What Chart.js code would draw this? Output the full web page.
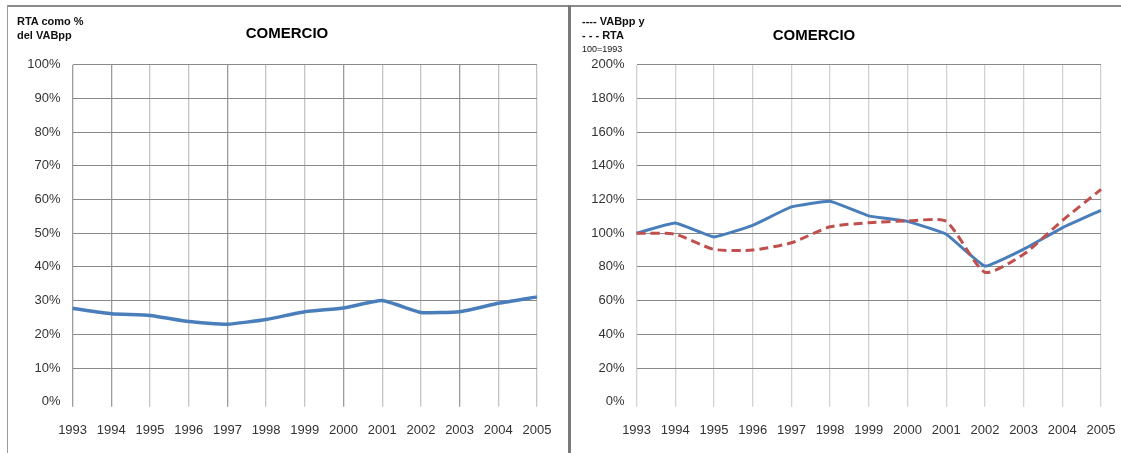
<!DOCTYPE html>
<html>
<head>
<meta charset="utf-8">
<script src="https://cdn.jsdelivr.net/npm/chart.js@4.4.1/dist/chart.umd.min.js"></script>
<style>
  html, body { margin: 0; padding: 0; background: #fff; }
  body { width: 1121px; height: 453px; position: relative; overflow: hidden; font-family: "Liberation Sans", Arial, sans-serif; }
  .abs { position: absolute; }
  .title { font-weight: bold; font-size: 15px; color: #000; white-space: nowrap; transform: translateX(-50%); }
  .note { font-size: 11px; font-weight: bold; color: #111; white-space: nowrap; line-height: 14px; }
</style>
</head>
<body>
<div class="abs" style="left:7px;top:5px;width:1114px;height:2px;background:#8a8a8a"></div>
<div class="abs" style="left:7px;top:5px;width:1px;height:448px;background:#9a9a9a"></div>
<div class="abs" style="left:568px;top:5px;width:3px;height:448px;background:#7a7a7a"></div>

<div class="abs" style="left:0;top:0;"><canvas id="c1" width="568" height="453"></canvas></div>
<div class="abs" style="left:571px;top:0;"><canvas id="c2" width="550" height="453"></canvas></div>

<div class="abs title" style="left:287px;top:24px;">COMERCIO</div>
<div class="abs title" style="left:814px;top:26px;">COMERCIO</div>
<div class="abs note" style="left:17px;top:14px;">RTA como %<br>del VABpp</div>
<div class="abs note" style="left:582px;top:14px;">---- VABpp y<br>- - - RTA</div>
<div class="abs" style="left:582px;top:44px;font-size:9px;color:#111;">100=1993</div>

<script>
const years = ['1993','1994','1995','1996','1997','1998','1999','2000','2001','2002','2003','2004','2005'];
const rtaShare = [27.7, 26.1, 25.6, 23.8, 23.0, 24.4, 26.7, 27.8, 30.0, 26.5, 26.7, 29.2, 31.1];
const vabIndex = [100, 106, 97.8, 104.7, 115.6, 119, 110.3, 107, 99.4, 80.5, 90.5, 103.2, 113.6];
const rtaIndex = [100, 99.4, 90.4, 90, 94.3, 103.8, 106.2, 107.3, 107, 76.8, 87.5, 107.5, 126];
const leftTicksMax = 100, leftStep = 10;
const rightTicksMax = 200, rightStep = 20;

const tickFont = { family: '"Liberation Sans", Arial, sans-serif', size: 13 };
const tickColor = '#333';

function makeChart(id, datasets, max, step, axisWidth, rightPad, vColor) {
  return new Chart(document.getElementById(id), {
    type: 'line',
    data: { labels: years, datasets },
    options: {
      responsive: false,
      animation: false,
      layout: { padding: { top: 64.7, right: rightPad, left: 0, bottom: 0 } },
      plugins: { legend: { display: false }, title: { display: false }, tooltip: { enabled: false } },
      elements: { point: { radius: 0 } },
      scales: {
        x: {
          offset: false,
          border: { display: false },
          grid: { color: vColor, lineWidth: 1.3, tickLength: 5, drawTicks: true },
          ticks: { font: tickFont, color: tickColor, padding: 16, maxRotation: 0, autoSkip: false },
          afterFit: s => { s.height = 453 - 401.7; s.paddingLeft = 0; s.paddingRight = 0; }
        },
        y: {
          min: 0, max: max,
          border: { display: false },
          grid: { drawTicks: false, lineWidth: 1, color: c => c.tick && c.tick.value === 0 ? 'rgba(0,0,0,0)' : '#8a8a8a' },
          ticks: { stepSize: step, font: tickFont, color: tickColor, padding: 12, callback: v => v + '%' },
          afterFit: s => { s.width = axisWidth; s.paddingTop = 0; s.paddingBottom = 0; }
        }
      }
    }
  });
}

const leftV = c => ([0,1,4,7,10].includes(c.index) ? '#9c9c9c' : '#c4c4c4');
const rightV = c => '#d2d2d2';

makeChart('c1', [{
  data: rtaShare, borderColor: '#4a7ebb', borderWidth: 3.5, tension: 0.15, fill: false
}], leftTicksMax, leftStep, 72.6, 31, leftV);

makeChart('c2', [{
  data: rtaIndex, borderColor: '#c0504d', borderWidth: 3, borderDash: [9, 5], tension: 0.2, fill: false
}, {
  data: vabIndex, borderColor: '#4a7ebb', borderWidth: 3, tension: 0.1, fill: false
}], rightTicksMax, rightStep, 65.6, 20, rightV);
</script>
</body>
</html>
